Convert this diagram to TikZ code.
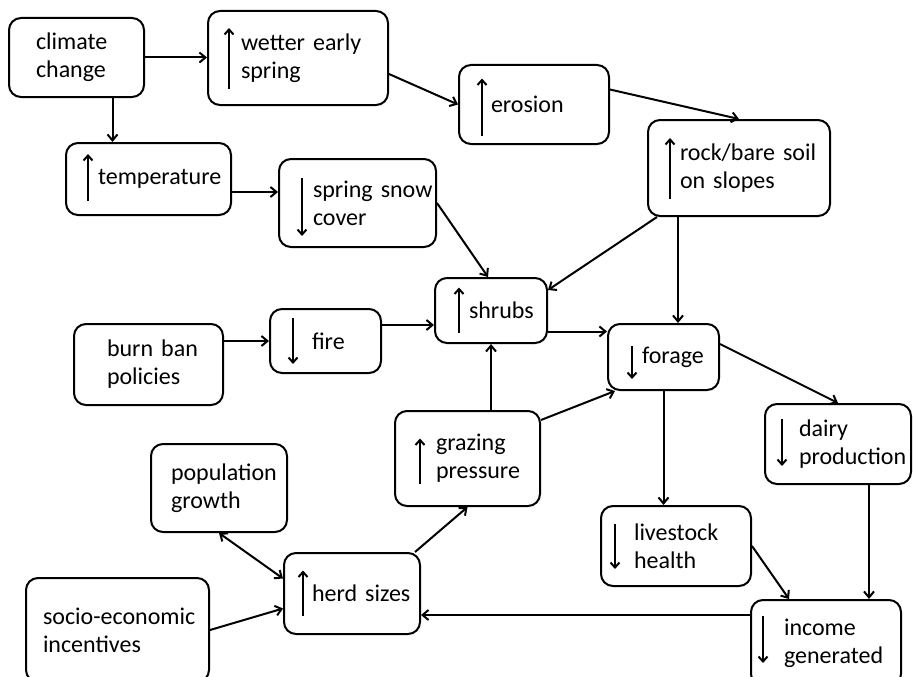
\documentclass[tikz,border=0pt]{standalone}
\usepackage{fontspec}
\setmainfont{Carlito}
\usetikzlibrary{arrows.meta,calc}
\hyphenpenalty=10000
\exhyphenpenalty=10000

\begin{document}
\begin{tikzpicture}[x=1pt,y=-1pt,
  >={Straight Barb[length=6pt,width=10pt]},
  box/.style={draw,line width=2pt,rounded corners=12pt,anchor=north west,
    align=left,inner sep=0pt,font=\fontsize{24pt}{28pt}\selectfont},
  conn/.style={line width=2pt,->},
  sign/.style={line width=2pt,-{Straight Barb[length=5pt,width=9pt]}}]
\useasboundingbox (0,0) rectangle (913,677);

% boxes
\node[box,minimum width=135pt,minimum height=79pt,text width=81pt] (climate) at (8,17) {climate\\change};
\node[box,minimum width=180pt,minimum height=94pt,text width=114pt] (wet) at (207,10) {wetter~early\\spring};
\node[box,minimum width=150pt,minimum height=79pt,text width=86pt] (erosion) at (458,64) {erosion};
\node[box,minimum width=182pt,minimum height=96pt,text width=118pt] (rock) at (647,119) {rock/bare~soil\\on~slopes};
\node[box,minimum width=165pt,minimum height=72pt,text width=101pt] (temp) at (65,142) {temperature};
\node[box,minimum width=157pt,minimum height=88pt,text width=89pt] (snow) at (278,158) {spring~snow\\cover};
\node[box,minimum width=149pt,minimum height=81pt,text width=83pt] (burn) at (73,323) {burn~ban\\policies};
\node[box,minimum width=111pt,minimum height=64pt,text width=27pt] (fire) at (269,308) {fire};
\node[box,minimum width=112pt,minimum height=65pt,text width=44pt] (shrubs) at (434,277) {shrubs};
\node[box,minimum width=111pt,minimum height=66pt,text width=43pt] (forage) at (607,323) {forage};
\node[box,minimum width=145pt,minimum height=95pt,text width=63pt] (graze) at (394,410) {grazing\\pressure};
\node[box,minimum width=146pt,minimum height=80pt,text width=78pt] (dairy) at (764,403) {dairy\\production};
\node[box,minimum width=136pt,minimum height=88pt,text width=96pt] (pop) at (150,443) {population\\growth};
\node[box,minimum width=136pt,minimum height=81pt,text width=80pt] (herd) at (283,552) {herd~sizes};
\node[box,minimum width=183pt,minimum height=104pt,text width=149pt] (socio) at (25,577) {socio-economic\\incentives};
\node[box,minimum width=150pt,minimum height=80pt,text width=84pt] (live) at (600,505) {livestock\\health};
\node[box,minimum width=150pt,minimum height=86pt,text width=84pt] (income) at (750,599) {income\\generated};

% up / down signs
\draw[sign] ($(wet.west)+(22,31)$) -- ++(0,-61);
\draw[sign] ($(erosion.west)+(24,31)$) -- ++(0,-57);
\draw[sign] ($(rock.west)+(23,31)$) -- ++(0,-61);
\draw[sign] ($(temp.west)+(23,22)$) -- ++(0,-47);
\draw[sign] ($(snow.west)+(24,-25)$) -- ++(0,58);
\draw[sign] ($(fire.west)+(24,-23)$) -- ++(0,46);
\draw[sign] ($(shrubs.west)+(25,22)$) -- ++(0,-45);
\draw[sign] ($(forage.west)+(25,-11)$) -- ++(0,33);
\draw[sign] ($(graze.west)+(26,25)$) -- ++(0,-45);
\draw[sign] ($(dairy.west)+(18,-25)$) -- ++(0,47);
\draw[sign] ($(herd.west)+(20,22)$) -- ++(0,-45);
\draw[sign] ($(live.west)+(15,-22)$) -- ++(0,45);
\draw[sign] ($(income.west)+(13,-27)$) -- ++(0,47);

% links
\draw[conn] (climate.east) -- (climate.east -| wet.west);
\draw[conn] ([xshift=36pt]climate.south) -- ([xshift=36pt]climate.south |- temp.north);
\draw[conn] ([yshift=-16pt]wet.east) -- (erosion.west);
\draw[conn] ([yshift=15pt]erosion.east) -- (rock.north);
\draw[conn] ([yshift=-13pt]temp.east) -- ([yshift=-13pt]temp.east -| snow.west);
\draw[conn] (snow.east) -- ([xshift=-3pt]shrubs.north);
\draw[conn] ([xshift=10pt]rock.south west) -- ([yshift=-13pt]shrubs.north east);
\draw[conn] ([xshift=31pt]rock.south west) -- ([xshift=31pt]rock.south west |- forage.north);
\draw[conn] (burn.east |- fire.west) -- (fire.west);
\draw[conn] ([yshift=16pt]fire.east) -- ([yshift=16pt]fire.east -| shrubs.west);
\draw[conn] ([yshift=-21pt]shrubs.east) -- ([yshift=-21pt]shrubs.east -| forage.west);
\draw[conn] (graze.north -| shrubs.south) -- (shrubs.south);
\draw[conn] ([yshift=-10pt]graze.north east) -- ([xshift=8pt]forage.south west);
\draw[conn] ([yshift=13pt]forage.east) -- (dairy.north);
\draw[conn] (forage.south) -- (forage.south |- live.north);
\draw[conn] ([xshift=31pt]dairy.south) -- ([xshift=31pt]dairy.south |- income.north);
\draw[conn] (live.east) -- ([xshift=39pt]income.north west);
\draw[conn] ([yshift=28pt]income.west) -- ([yshift=28pt]income.west -| herd.east);
\draw[conn] ([xshift=-6pt]herd.north east) -- (graze.south);
\draw[conn,<->] (pop.south) -- ([yshift=15pt]herd.west);
\draw[conn] (socio.east) -- ([yshift=-15pt]herd.west);
\end{tikzpicture}
\end{document}
